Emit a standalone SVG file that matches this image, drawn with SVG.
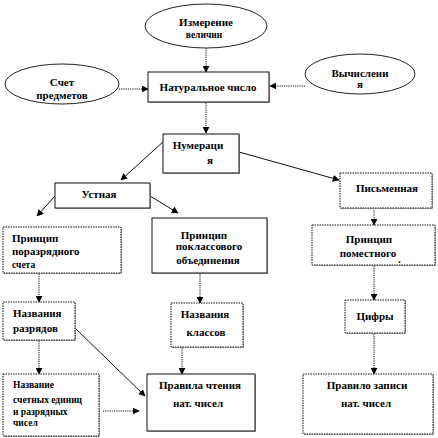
<svg xmlns="http://www.w3.org/2000/svg" width="438" height="438" viewBox="0 0 438 438">
<style>
.bx{fill:#fff;stroke:#111;stroke-width:1;}
.dot{stroke-dasharray:1.5,1;}
.sh{fill:#b0b0b0;}
.el{fill:#fff;stroke:#222;stroke-width:1;}
text{font-family:"Liberation Serif","DejaVu Serif","Times New Roman",serif;font-weight:bold;font-size:11px;fill:#000;}
.c{text-anchor:middle;}
.s{font-size:9.5px;}
.ln{fill:none;stroke:#111;stroke-width:1;}
.dl{fill:none;stroke:#111;stroke-width:1;stroke-dasharray:1.2,1;}
</style>
<defs>
<marker id="ah" viewBox="0 0 10 10" refX="9" refY="5" markerWidth="7" markerHeight="7" orient="auto" markerUnits="userSpaceOnUse">
<path d="M0,0 L10,5 L0,10 z" fill="#000"/>
</marker>
</defs>

<g id="connectors">
<path class="dl" d="M206,48 V72" marker-end="url(#ah)"/>
<path class="dl" d="M119,89 H148" marker-end="url(#ah)"/>
<path class="dl" d="M305,86 H270" marker-end="url(#ah)"/>
<path class="dl" d="M206,103 V133" marker-end="url(#ah)"/>
<path class="ln" d="M164,141 L121,180" marker-end="url(#ah)"/>
<path class="ln" d="M239,152 L339,180" marker-end="url(#ah)"/>
<path class="ln" d="M55,196 L37,216" marker-end="url(#ah)"/>
<path class="ln" d="M150,196 L178,213" marker-end="url(#ah)"/>
<path class="dl" d="M374,208 V225" marker-end="url(#ah)"/>
<path class="dl" d="M39,274 V302" marker-end="url(#ah)"/>
<path class="dl" d="M200,274 V303" marker-end="url(#ah)"/>
<path class="dl" d="M374,266 V300" marker-end="url(#ah)"/>
<path class="dl" d="M39,341 V374" marker-end="url(#ah)"/>
<path class="dl" d="M182,348 V374" marker-end="url(#ah)"/>
<path class="dl" d="M374,334 V374" marker-end="url(#ah)"/>
<path class="dl" d="M103,411 H139" marker-end="url(#ah)"/>
<path class="ln" d="M75,328 L145,396" marker-end="url(#ah)"/>
</g>

<g id="izmerenie">
<ellipse class="el" cx="206" cy="26" rx="61" ry="22"/>
<text class="c" x="206" y="26">Измерение</text>
<text class="c s" x="204" y="38">величин</text>
</g>

<g id="schet">
<ellipse class="el" cx="62" cy="84" rx="57" ry="20"/>
<text class="c" x="62" y="86">Счет</text>
<text class="c" x="62" y="99">предметов</text>
</g>

<g id="vychisleniya">
<ellipse class="el" cx="360" cy="74" rx="55" ry="20"/>
<text class="c" x="360" y="77">Вычислени</text>
<text class="c" x="360" y="88">я</text>
</g>

<g id="naturalnoe">
<rect class="sh" x="149" y="73" width="121" height="30"/>
<rect class="bx" x="148" y="72" width="121" height="30"/>
<text class="c" x="208" y="91">Натуральное число</text>
</g>

<g id="numeraciya">
<rect class="sh" x="164" y="135" width="76" height="39"/>
<rect class="bx" x="163" y="134" width="76" height="39"/>
<text class="c" x="198" y="149">Нумераци</text>
<text class="c" x="210" y="164">я</text>
</g>

<g id="ustnaya">
<rect class="sh" x="56" y="184" width="95" height="25"/>
<rect class="bx" x="55" y="183" width="95" height="25"/>
<text class="c" x="99" y="198">Устная</text>
</g>

<g id="pismennaya">
<rect class="sh" x="341" y="174" width="92" height="35"/>
<rect class="bx dot" x="340" y="173" width="92" height="35"/>
<text class="c" x="387" y="192">Письменная</text>
</g>

<g id="porazryadny">
<rect class="sh" x="4" y="228" width="118" height="46"/>
<rect class="bx dot" x="3" y="227" width="118" height="46"/>
<text x="12" y="242">Принцип</text>
<text x="12" y="255">поразрядного</text>
<text class="s" x="12" y="268">счета</text>
</g>

<g id="poklassovy">
<rect class="sh" x="153" y="219" width="115" height="55"/>
<rect class="bx" x="152" y="218" width="115" height="55"/>
<text class="c" x="204" y="239">Принцип</text>
<text class="c" x="209" y="250">поклассового</text>
<text class="c" x="208" y="264">объединения</text>
</g>

<g id="pomestny">
<rect class="sh" x="313" y="226" width="123" height="40"/>
<rect class="bx dot" x="312" y="225" width="123" height="40"/>
<text class="c" x="369" y="243">Принцип</text>
<text class="c" x="368" y="257">поместного</text>
<text x="398" y="263">.</text>
</g>

<g id="razryady">
<rect class="sh" x="4" y="303" width="72" height="38"/>
<rect class="bx dot" x="3" y="302" width="72" height="38"/>
<text x="13" y="317">Названия</text>
<text x="13" y="332">разрядов</text>
</g>

<g id="klassy">
<rect class="sh" x="172" y="304" width="72" height="44"/>
<rect class="bx dot" x="171" y="303" width="72" height="44"/>
<text class="c" x="205" y="318">Названия</text>
<text class="c" x="206" y="336">классов</text>
</g>

<g id="cifry">
<rect class="sh" x="346" y="301" width="60" height="33"/>
<rect class="bx dot" x="345" y="300" width="60" height="33"/>
<text class="c" x="375" y="320">Цифры</text>
</g>

<g id="nazvanie">
<rect class="sh" x="4" y="375" width="96" height="62"/>
<rect class="bx dot" x="3" y="374" width="96" height="62"/>
<text class="s" x="13" y="388">Название</text>
<text class="s" x="13" y="403">счетных единиц</text>
<text class="s" x="13" y="415">и разрядных</text>
<text class="s" x="13" y="426">чисел</text>
</g>

<g id="chtenie">
<rect class="sh" x="148" y="375" width="108" height="57"/>
<rect class="bx" x="147" y="374" width="108" height="57"/>
<text class="c" x="200" y="389">Правила чтения</text>
<text class="c" x="198" y="407">нат. чисел</text>
</g>

<g id="zapis">
<rect class="sh" x="304" y="375" width="130" height="60"/>
<rect class="bx dot" x="303" y="374" width="130" height="60"/>
<text class="c" x="367" y="389">Правило записи</text>
<text class="c" x="366" y="407">нат. чисел</text>
</g>
</svg>
